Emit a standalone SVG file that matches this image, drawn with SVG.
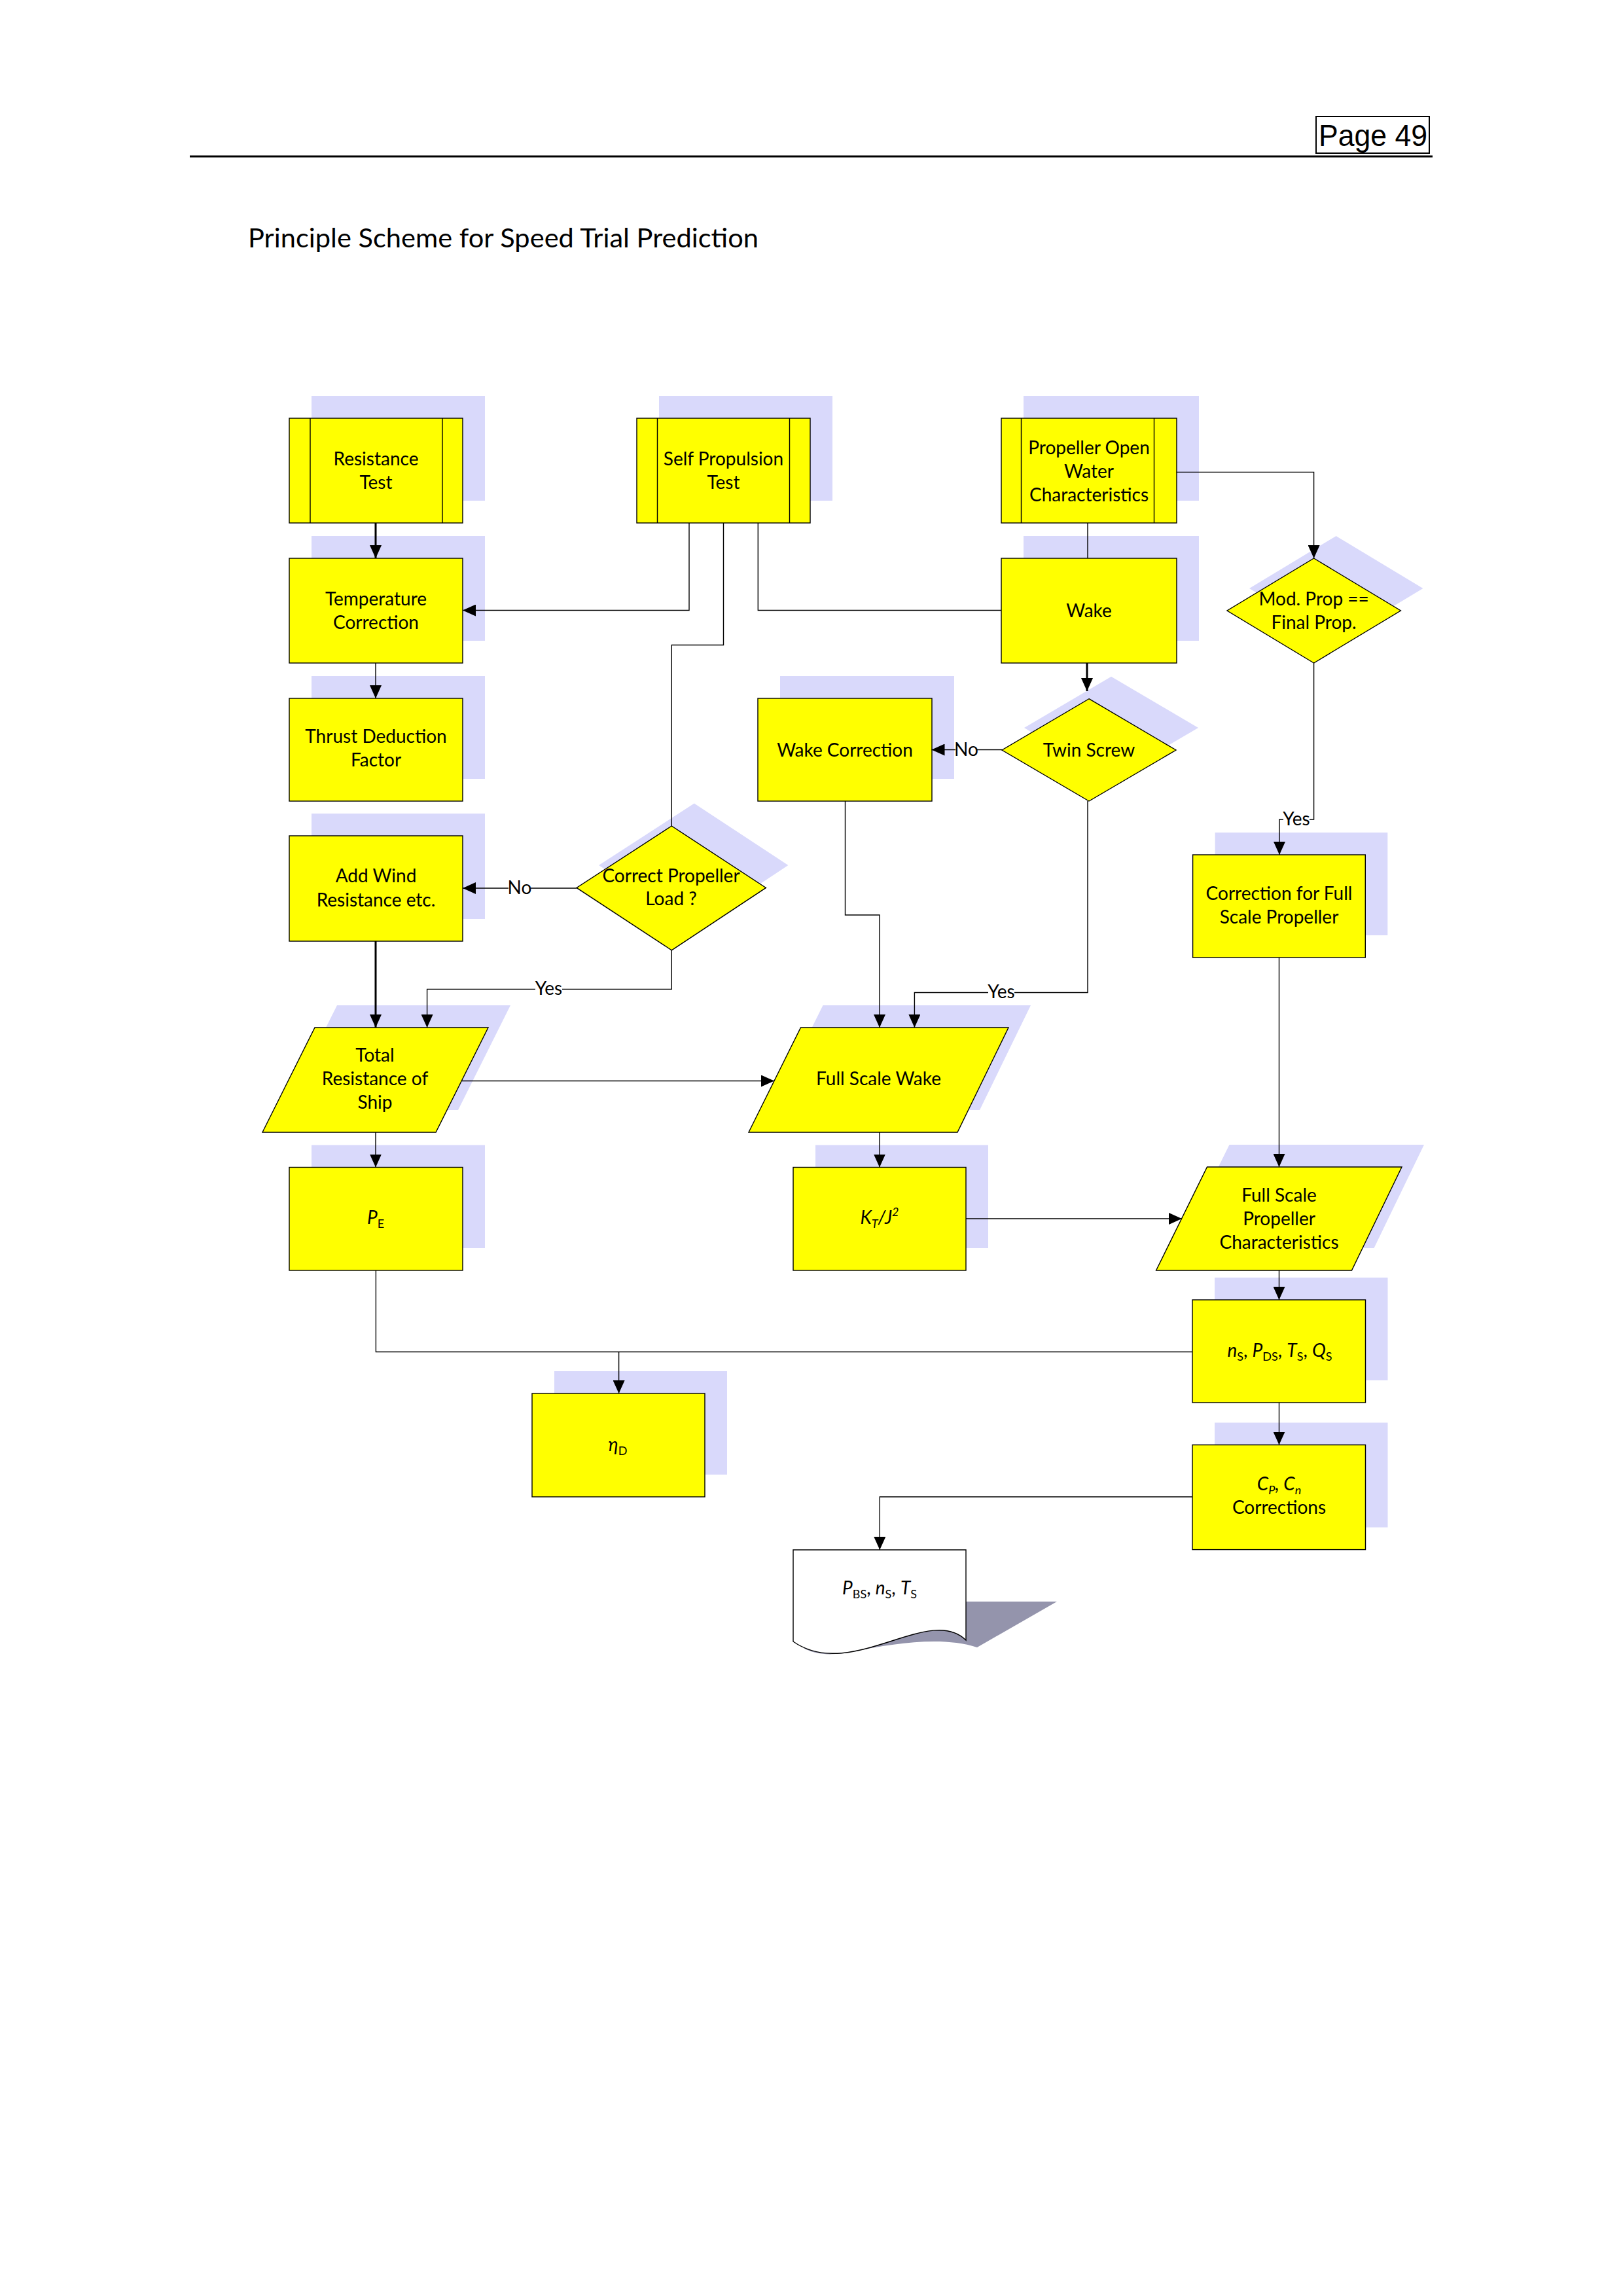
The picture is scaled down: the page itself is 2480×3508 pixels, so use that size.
<svg xmlns="http://www.w3.org/2000/svg" width="2480" height="3508" viewBox="0 0 2480 3508">
<style>
  .sh { fill: #D9D9FB; stroke: none; }
  .nd { fill: #FFFF00; stroke: #000; stroke-width: 1.4; }
  .tx { font-family: Lato, "Open Sans", sans-serif; font-size: 28px; fill: #000; text-anchor: middle; }
  .it { font-style: italic; }
  .sub { font-size: 18px; }
  .cn { fill: none; stroke: #000; stroke-width: 1.4; }
  .ck { fill: none; stroke: #000; stroke-width: 3; }
  .lb { fill: #fff; stroke: none; }
</style>
<defs>
  <marker id="ah" markerUnits="userSpaceOnUse" markerWidth="20" markerHeight="18" refX="20" refY="9" orient="auto" viewBox="0 0 20 18">
    <path d="M0,0 L20,9 L0,18 Z" fill="#000"/>
  </marker>
</defs>
<rect width="2480" height="3508" fill="#fff"/>

<g id="header">
  <line x1="290" y1="239" x2="2189" y2="239" stroke="#000" stroke-width="3"/>
  <rect x="2011" y="178" width="173" height="56" fill="none" stroke="#000" stroke-width="2"/>
  <text x="2015" y="223" font-family="Liberation Sans, Arial, sans-serif" font-size="46" textLength="166" lengthAdjust="spacingAndGlyphs">Page 49</text>
  <text x="379" y="378" font-family="Lato, 'Open Sans', sans-serif" font-size="41" textLength="780" lengthAdjust="spacingAndGlyphs">Principle Scheme for Speed Trial Prediction</text>
</g>

<g id="resistance-test">
  <rect class="sh" x="476" y="605" width="265" height="160"/>
  <rect class="nd" x="442" y="639" width="265" height="160"/>
  <line class="cn" x1="474" y1="639" x2="474" y2="799"/>
  <line class="cn" x1="676" y1="639" x2="676" y2="799"/>
  <text class="tx" x="574.5" y="711">Resistance</text>
  <text class="tx" x="574.5" y="747">Test</text>
</g>

<g id="self-propulsion-test">
  <rect class="sh" x="1007" y="605" width="265" height="160"/>
  <rect class="nd" x="973" y="639" width="265" height="160"/>
  <line class="cn" x1="1004.5" y1="639" x2="1004.5" y2="799"/>
  <line class="cn" x1="1206.5" y1="639" x2="1206.5" y2="799"/>
  <text class="tx" x="1105.5" y="711">Self Propulsion</text>
  <text class="tx" x="1105.5" y="747">Test</text>
</g>

<g id="propeller-open-water">
  <rect class="sh" x="1564" y="605" width="268" height="160"/>
  <rect class="nd" x="1530" y="639" width="268" height="160"/>
  <line class="cn" x1="1560.5" y1="639" x2="1560.5" y2="799"/>
  <line class="cn" x1="1763.5" y1="639" x2="1763.5" y2="799"/>
  <text class="tx" x="1664" y="694">Propeller Open</text>
  <text class="tx" x="1664" y="730">Water</text>
  <text class="tx" x="1664" y="766">Characteristics</text>
</g>

<g id="temperature-correction">
  <rect class="sh" x="476" y="819" width="265" height="160"/>
  <rect class="nd" x="442" y="853" width="265" height="160"/>
  <text class="tx" x="574.5" y="925">Temperature</text>
  <text class="tx" x="574.5" y="961">Correction</text>
</g>

<g id="wake">
  <rect class="sh" x="1564" y="819" width="268" height="160"/>
  <rect class="nd" x="1530" y="853" width="268" height="160"/>
  <text class="tx" x="1664" y="943">Wake</text>
</g>

<g id="mod-prop">
  <polygon class="sh" points="2041.6,819 2174.4,899 2041.6,979 1909,899"/>
  <polygon class="nd" points="2007.6,853 2140.4,933 2007.6,1013 1875,933"/>
  <text class="tx" x="2007.6" y="925">Mod. Prop ==</text>
  <text class="tx" x="2007.6" y="961">Final Prop.</text>
</g>

<g id="thrust-deduction">
  <rect class="sh" x="476" y="1033" width="265" height="157"/>
  <rect class="nd" x="442" y="1067" width="265" height="157"/>
  <text class="tx" x="574.5" y="1135">Thrust Deduction</text>
  <text class="tx" x="574.5" y="1171">Factor</text>
</g>

<g id="wake-correction">
  <rect class="sh" x="1192" y="1033" width="266" height="157"/>
  <rect class="nd" x="1158" y="1067" width="266" height="157"/>
  <text class="tx" x="1291" y="1155.5">Wake Correction</text>
</g>

<g id="twin-screw">
  <polygon class="sh" points="1698,1033.7 1831,1112 1698,1190 1565,1112"/>
  <polygon class="nd" points="1664,1067.7 1797,1146 1664,1224 1531,1146"/>
  <text class="tx" x="1664" y="1156">Twin Screw</text>
</g>

<g id="add-wind">
  <rect class="sh" x="476" y="1243" width="265" height="161"/>
  <rect class="nd" x="442" y="1277" width="265" height="161"/>
  <text class="tx" x="574.5" y="1348">Add Wind</text>
  <text class="tx" x="574.5" y="1385">Resistance etc.</text>
</g>

<g id="correct-propeller-load">
  <polygon class="sh" points="1060.8,1227.5 1204.4,1322 1060.8,1417.3 915,1322"/>
  <polygon class="nd" points="1026.3,1262 1170.4,1356.4 1026.3,1451.8 881,1356.4"/>
  <text class="tx" x="1025.5" y="1347.5">Correct Propeller</text>
  <text class="tx" x="1025.5" y="1383">Load ?</text>
</g>

<g id="correction-full-scale">
  <rect class="sh" x="1856.6" y="1272" width="263.7" height="157"/>
  <rect class="nd" x="1822.6" y="1306" width="263.7" height="157"/>
  <text class="tx" x="1954.5" y="1375">Correction for Full</text>
  <text class="tx" x="1954.5" y="1411">Scale Propeller</text>
</g>

<g id="total-resistance">
  <polygon class="sh" points="515,1536 780,1536 700,1696 435,1696"/>
  <polygon class="nd" points="481,1570 746,1570 666,1730 401,1730"/>
  <text class="tx" x="573" y="1622">Total</text>
  <text class="tx" x="573" y="1658">Resistance of</text>
  <text class="tx" x="573" y="1694">Ship</text>
</g>

<g id="full-scale-wake">
  <polygon class="sh" points="1257.5,1536 1575,1536 1497,1696 1178,1696"/>
  <polygon class="nd" points="1223.5,1570 1541,1570 1463,1730 1144,1730"/>
  <text class="tx" x="1342.5" y="1658">Full Scale Wake</text>
</g>

<g id="pe">
  <rect class="sh" x="476" y="1749.5" width="265" height="157.5"/>
  <rect class="nd" x="442" y="1783.5" width="265" height="157.5"/>
  <text class="tx" x="574" y="1870"><tspan class="it">P</tspan><tspan class="sub" dy="6">E</tspan></text>
</g>

<g id="kt-j2">
  <rect class="sh" x="1246" y="1749.5" width="264" height="157.5"/>
  <rect class="nd" x="1212" y="1783.5" width="264" height="157.5"/>
  <text class="tx it" x="1344" y="1870">K<tspan class="sub" dy="6">T</tspan><tspan dy="-6">/J</tspan><tspan class="sub" dy="-12">2</tspan></text>
</g>

<g id="full-scale-propeller-characteristics">
  <polygon class="sh" points="1878.5,1749 2176,1749 2099.5,1907 1800.6,1907"/>
  <polygon class="nd" points="1844.5,1783 2142,1783 2065.5,1941 1766.6,1941"/>
  <text class="tx" x="1954.5" y="1836">Full Scale</text>
  <text class="tx" x="1954.5" y="1872">Propeller</text>
  <text class="tx" x="1954.5" y="1908">Characteristics</text>
</g>

<g id="ns-pds-ts-qs">
  <rect class="sh" x="1856" y="1952" width="264.5" height="157"/>
  <rect class="nd" x="1822" y="1986" width="264.5" height="157"/>
  <text class="tx" x="1955.5" y="2073"><tspan class="it">n</tspan><tspan class="sub" dy="6">S</tspan><tspan dy="-6">, </tspan><tspan class="it">P</tspan><tspan class="sub" dy="6">DS</tspan><tspan dy="-6">, </tspan><tspan class="it">T</tspan><tspan class="sub" dy="6">S</tspan><tspan dy="-6">, </tspan><tspan class="it">Q</tspan><tspan class="sub" dy="6">S</tspan></text>
</g>

<g id="eta-d">
  <rect class="sh" x="847" y="2095" width="264" height="158"/>
  <rect class="nd" x="813" y="2129" width="264" height="158"/>
  <text class="tx" x="944" y="2217"><tspan class="it">η</tspan><tspan class="sub" dy="6">D</tspan></text>
</g>

<g id="cp-cn-corrections">
  <rect class="sh" x="1856" y="2173.6" width="264.5" height="160"/>
  <rect class="nd" x="1822" y="2207.6" width="264.5" height="160"/>
  <text class="tx it" x="1954.5" y="2277">C<tspan class="sub" dy="6">P</tspan><tspan dy="-6">, C</tspan><tspan class="sub" dy="6">n</tspan></text>
  <text class="tx" x="1954.5" y="2313">Corrections</text>
</g>

<g id="output-document">
  <path d="M1476,2447 L1615,2447 L1493,2517 C1440,2500 1370,2510 1300,2524 C1270,2530 1245,2528 1228,2518 L1228,2447 Z" fill="#9494AC"/>
  <path d="M1212,2368 H1476 V2506 C1420,2450 1300,2570 1212,2508 Z" fill="#fff" stroke="#000" stroke-width="1.4"/>
  <text class="tx" x="1344" y="2436"><tspan class="it">P</tspan><tspan class="sub" dy="6">BS</tspan><tspan dy="-6">, </tspan><tspan class="it">n</tspan><tspan class="sub" dy="6">S</tspan><tspan dy="-6">, </tspan><tspan class="it">T</tspan><tspan class="sub" dy="6">S</tspan></text>
</g>

<g id="connectors">
  <path class="ck" d="M574,799 V853" marker-end="url(#ah)"/>
  <path class="cn" d="M574,1013 V1067" marker-end="url(#ah)"/>
  <path class="cn" d="M1053,799 V932.5 H707" marker-end="url(#ah)"/>
  <path class="cn" d="M1105.5,799 V985.5 H1026.3 V1262"/>
  <path class="cn" d="M1158.3,799 V932.5 H1530"/>
  <path class="cn" d="M1662,799 V853"/>
  <path class="cn" d="M1797.6,721.4 H2007.6 V853" marker-end="url(#ah)"/>
  <path class="ck" d="M1661,1013 V1056" marker-end="url(#ah)"/>
  <path class="cn" d="M1531,1145.5 H1423.5" marker-end="url(#ah)"/>
  <path class="cn" d="M1662,1224 V1516.5 H1397.4 V1570" marker-end="url(#ah)"/>
  <path class="cn" d="M1291.5,1224 V1398 H1344 V1570" marker-end="url(#ah)"/>
  <path class="cn" d="M2007.6,1013 V1252 H1955 V1306" marker-end="url(#ah)"/>
  <path class="cn" d="M881,1357 H707" marker-end="url(#ah)"/>
  <path class="cn" d="M1026.3,1452 V1511.4 H652.6 V1570" marker-end="url(#ah)"/>
  <path class="ck" d="M574,1438 V1570" marker-end="url(#ah)"/>
  <path class="cn" d="M706,1651.5 H1183" marker-end="url(#ah)"/>
  <path class="cn" d="M574,1730 V1783.5" marker-end="url(#ah)"/>
  <path class="cn" d="M1344,1730 V1783.5" marker-end="url(#ah)"/>
  <path class="cn" d="M1476,1862 H1806" marker-end="url(#ah)"/>
  <path class="cn" d="M1954.5,1463 V1783" marker-end="url(#ah)"/>
  <path class="cn" d="M1954.5,1941 V1986" marker-end="url(#ah)"/>
  <path class="cn" d="M574.4,1941 V2065.5 H1822"/>
  <path class="cn" d="M945.6,2065.5 V2129" marker-end="url(#ah)"/>
  <path class="cn" d="M1954.5,2143 V2207.6" marker-end="url(#ah)"/>
  <path class="cn" d="M1822,2287 H1344.3 V2368" marker-end="url(#ah)"/>
  <g id="connector-labels">
    <rect class="lb" x="1460" y="1133" width="33" height="26"/>
    <text class="tx" x="1476.5" y="1155">No</text>
    <rect class="lb" x="777" y="1344" width="34" height="26"/>
    <text class="tx" x="794" y="1366">No</text>
    <rect class="lb" x="818" y="1498" width="41" height="26"/>
    <text class="tx" x="838.5" y="1520">Yes</text>
    <rect class="lb" x="1510" y="1503" width="40" height="26"/>
    <text class="tx" x="1530" y="1525">Yes</text>
    <rect class="lb" x="1961" y="1239" width="40" height="26"/>
    <text class="tx" x="1981" y="1261">Yes</text>
  </g>
</g>
</svg>
